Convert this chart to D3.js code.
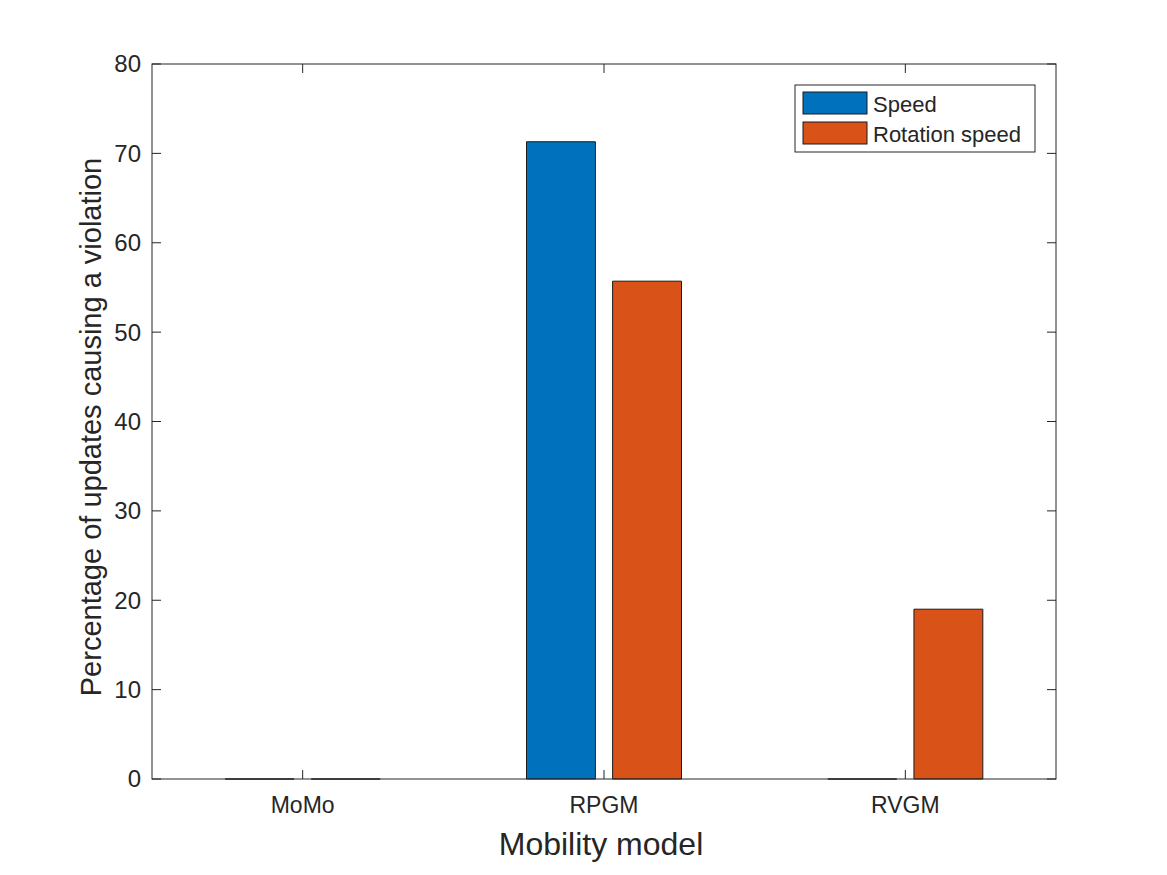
<!DOCTYPE html>
<html><head><meta charset="utf-8">
<script src="https://cdn.jsdelivr.net/npm/d3@7"></script>
<style>body{margin:0;background:#fff;} text{font-family:"Liberation Sans","DejaVu Sans",sans-serif;fill:#262626;}</style>
</head><body>
<svg id="c" width="1167" height="875"></svg>
<script>
const categories = ["MoMo", "RPGM", "RVGM"];
const seriesNames = ["Speed", "Rotation speed"];
const speedValues = [0, 71.3, 0];
const rotationValues = [0, 55.7, 19.0];
const yTicks = [0, 10, 20, 30, 40, 50, 60, 70, 80];
const colors = ["#0072BD", "#D95319"];

const svg = d3.select("#c");
const L = 152, R = 1056, T = 64, B = 779;
const x = d3.scaleLinear().domain([0.5, 3.5]).range([L, R]);
const y = d3.scaleLinear().domain([0, 80]).range([B, T]);

svg.append("rect").attr("x", 0).attr("y", 0).attr("width", 1167).attr("height", 875).attr("fill", "#fff");

const series = [speedValues, rotationValues];
const groupW = Math.min(0.8, 2 / 3.5);
const barW = groupW / 2 * 0.8;
series.forEach((vals, s) => {
  const off = (s - 0.5) * groupW / 2;
  svg.append("g").selectAll("path").data(vals).join("path")
    .attr("d", (v, i) => {
      const x0 = x(i + 1 + off - barW / 2), x1 = x(i + 1 + off + barW / 2);
      return `M${x0},${y(0)}V${y(v)}H${x1}V${y(0)}Z`;
    })
    .attr("fill", colors[s]).attr("stroke", "#1a1a1a").attr("stroke-width", 1);
});

// axes box
const axc = "#262626";
svg.append("rect").attr("x", L).attr("y", T).attr("width", R - L).attr("height", B - T)
  .attr("fill", "none").attr("stroke", axc).attr("stroke-width", 1);

// y ticks
const tl = 9;
yTicks.forEach(t => {
  svg.append("line").attr("x1", L).attr("x2", L + tl).attr("y1", y(t)).attr("y2", y(t)).attr("stroke", axc);
  svg.append("line").attr("x1", R).attr("x2", R - tl).attr("y1", y(t)).attr("y2", y(t)).attr("stroke", axc);
  svg.append("text").attr("x", L - 11).attr("y", y(t)).attr("dy", "0.35em").attr("text-anchor", "end")
    .attr("font-size", 24).text(t);
});
// x ticks
categories.forEach((c, i) => {
  svg.append("line").attr("x1", x(i + 1)).attr("x2", x(i + 1)).attr("y1", B).attr("y2", B - tl).attr("stroke", axc);
  svg.append("line").attr("x1", x(i + 1)).attr("x2", x(i + 1)).attr("y1", T).attr("y2", T + tl).attr("stroke", axc);
  svg.append("text").attr("x", x(i + 1)).attr("y", 813).attr("text-anchor", "middle")
    .attr("font-size", 23).text(c);
});

svg.append("text").attr("x", (L + R) / 2 - 3).attr("y", 855).attr("text-anchor", "middle")
  .attr("font-size", 32).text("Mobility model");
svg.append("text").attr("transform", `translate(101,427) rotate(-90)`).attr("text-anchor", "middle")
  .attr("font-size", 29).text("Percentage of updates causing a violation");

// legend
const lg = svg.append("g");
lg.append("rect").attr("x", 795).attr("y", 85).attr("width", 240).attr("height", 67)
  .attr("fill", "#fff").attr("stroke", axc).attr("stroke-width", 1);
seriesNames.forEach((n, s) => {
  const yy = 92 + s * 30;
  lg.append("rect").attr("x", 803).attr("y", yy).attr("width", 64).attr("height", 22)
    .attr("fill", colors[s]).attr("stroke", "#1a1a1a");
  lg.append("text").attr("x", 873).attr("y", yy + 12).attr("dy", "0.35em").attr("font-size", 22).text(n);
});
</script>
</body></html>
